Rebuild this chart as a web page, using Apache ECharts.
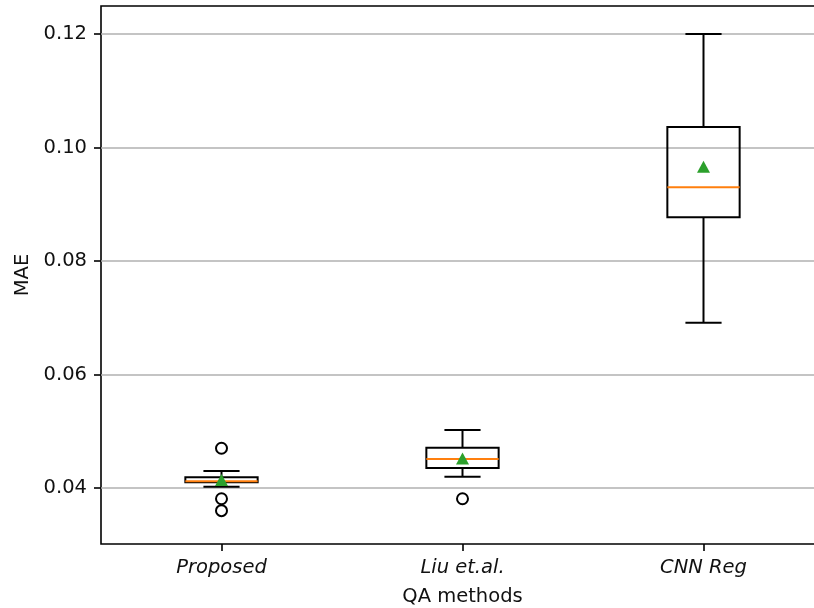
<!DOCTYPE html>
<html>
<head>
<meta charset="utf-8">
<script src="https://cdn.jsdelivr.net/npm/echarts@6/dist/echarts.min.js"></script>
<style>
  html, body { margin: 0; padding: 0; background: #fff; }
  #chart { width: 814px; height: 608px; }
</style>
</head>
<body>
<div id="chart"></div>
<script>
// Box-plot summary of MAE per QA method
const methods = ['Proposed', 'Liu et.al.', 'CNN Reg'];
const whiskerLow  = [0.0402, 0.0420, 0.0691];
const q1          = [0.0410, 0.0435, 0.0877];
const median      = [0.0412, 0.0451, 0.0930];
const q3          = [0.0419, 0.0471, 0.1036];
const whiskerHigh = [0.0430, 0.0502, 0.1200];
const means       = [0.0414, 0.0452, 0.0966];
// fliers: [method index, value]
const outliers = [[0, 0.0470], [0, 0.0381], [0, 0.0360], [1, 0.0381]];
const yTicks = [0.04, 0.06, 0.08, 0.10, 0.12];

const boxData = methods.map((m, i) =>
  [i, whiskerLow[i], q1[i], median[i], q3[i], whiskerHigh[i]]);

const FONT = 'DejaVu Sans';
const TXT = '#111';

function renderBox(params, api) {
  const i = api.value(0);
  const band = api.size([1, 0])[0];
  const hw = band * 0.15;      // half box width
  const cw = band * 0.075;     // half cap width
  const pLo = api.coord([i, api.value(1)]);
  const pQ1 = api.coord([i, api.value(2)]);
  const pMed = api.coord([i, api.value(3)]);
  const pQ3 = api.coord([i, api.value(4)]);
  const pHi = api.coord([i, api.value(5)]);
  const cx = pQ1[0];
  const line = { stroke: '#000', lineWidth: 2, fill: null };
  return {
    type: 'group',
    children: [
      { type: 'line', shape: { x1: cx, y1: pQ3[1], x2: cx, y2: pHi[1] }, style: line },
      { type: 'line', shape: { x1: cx, y1: pQ1[1], x2: cx, y2: pLo[1] }, style: line },
      { type: 'line', shape: { x1: cx - cw, y1: pHi[1], x2: cx + cw, y2: pHi[1] }, style: line },
      { type: 'line', shape: { x1: cx - cw, y1: pLo[1], x2: cx + cw, y2: pLo[1] }, style: line },
      { type: 'rect', shape: { x: cx - hw, y: pQ3[1], width: hw * 2, height: pQ1[1] - pQ3[1] }, style: line },
      { type: 'line', shape: { x1: cx - hw, y1: pMed[1], x2: cx + hw, y2: pMed[1] },
        style: { stroke: '#ff7f0e', lineWidth: 2 } }
    ]
  };
}

const chart = echarts.init(document.getElementById('chart'), null, { renderer: 'canvas' });
chart.setOption({
  animation: false,
  backgroundColor: '#fff',
  grid: {
    left: 101, top: 6, width: 723, height: 538,
    outerBoundsMode: 'none',
    containLabel: false,
    show: true, borderColor: '#000', borderWidth: 1.6, backgroundColor: 'transparent'
  },
  xAxis: {
    type: 'category',
    data: methods,
    boundaryGap: true,
    name: 'QA methods',
    nameLocation: 'middle',
    nameGap: 43,
    nameTextStyle: { fontFamily: FONT, fontSize: 19.5, color: TXT },
    axisLine: { show: false },
    axisTick: { show: true, alignWithLabel: true, length: 7, lineStyle: { color: '#000', width: 1.6 } },
    axisLabel: { margin: 14, fontFamily: FONT, fontSize: 19.5, fontStyle: 'italic', color: TXT },
    splitLine: { show: false }
  },
  yAxis: {
    type: 'value',
    min: 0.03013,
    max: 0.12493,
    name: 'MAE',
    nameLocation: 'middle',
    nameGap: 68,
    nameTextStyle: { fontFamily: FONT, fontSize: 19.5, color: TXT },
    axisLine: { show: false },
    axisTick: { show: true, length: 7, customValues: yTicks, lineStyle: { color: '#000', width: 1.6 } },
    axisLabel: { margin: 14, customValues: yTicks, fontFamily: FONT, fontSize: 19.5, color: TXT,
      formatter: v => v.toFixed(2) },
    splitLine: { show: false }
  },
  series: [
    {
      // horizontal reference lines at the y ticks
      type: 'line',
      data: [],
      silent: true,
      zlevel: 0,
      z: 0,
      markLine: {
        symbol: 'none',
        silent: true,
        label: { show: false },
        lineStyle: { color: '#b0b0b0', width: 1.6, type: 'solid' },
        data: yTicks.map(v => ({ yAxis: v }))
      }
    },
    {
      type: 'custom',
      renderItem: renderBox,
      data: boxData,
      encode: { x: 0, y: [1, 2, 3, 4, 5] },
      zlevel: 1,
      z: 10
    },
    {
      type: 'scatter',
      data: outliers,
      symbol: 'circle',
      symbolSize: 11,
      itemStyle: { color: 'transparent', borderColor: '#000', borderWidth: 2, opacity: 1 },
      zlevel: 1,
      z: 11
    },
    {
      type: 'scatter',
      data: means.map((v, i) => [i, v]),
      symbol: 'triangle',
      symbolSize: [13, 12],
      itemStyle: { color: '#2ca02c', opacity: 1 },
      zlevel: 1,
      z: 12
    }
  ]
});
</script>
</body>
</html>
